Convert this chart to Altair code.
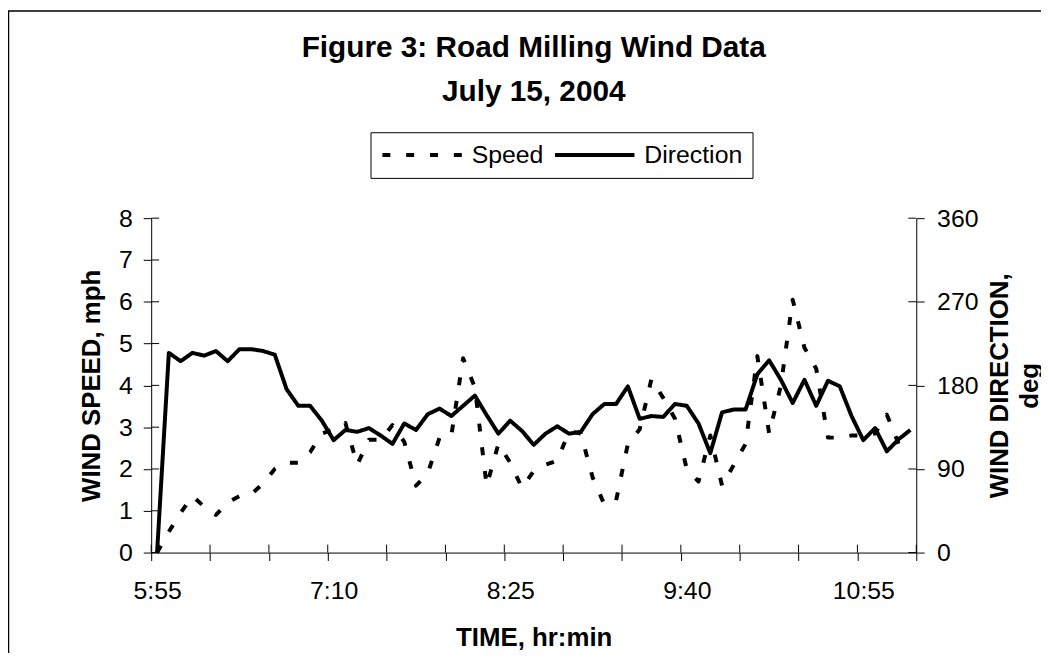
import altair as alt
import pandas as pd

# ---------------- data ----------------
times = ["5:55", "6:00", "6:05", "6:10", "6:15", "6:20", "6:25", "6:30", "6:35", "6:40",
         "6:45", "6:50", "6:55", "7:00", "7:05", "7:10", "7:15", "7:20", "7:25", "7:30",
         "7:35", "7:40", "7:45", "7:50", "7:55", "8:00", "8:05", "8:10", "8:15", "8:20",
         "8:25", "8:30", "8:35", "8:40", "8:45", "8:50", "8:55", "9:00", "9:05", "9:10",
         "9:15", "9:20", "9:25", "9:30", "9:35", "9:40", "9:45", "9:50", "9:55", "10:00",
         "10:05", "10:10", "10:15", "10:20", "10:25", "10:30", "10:35", "10:40", "10:45", "10:50",
         "10:55", "11:00", "11:05", "11:10", "11:15"]

speed = [0.0, 0.5, 0.95, 1.35, 1.1, 0.9, 1.2, 1.35, 1.4, 1.65,
         2.0, 2.15, 2.15, 2.4, 2.85, 2.95, 3.1, 2.1, 2.7, 2.7,
         3.05, 2.65, 1.6, 1.9, 2.75, 2.8, 4.65, 3.95, 1.6, 2.6,
         2.15, 1.55, 1.95, 2.1, 2.2, 2.9, 2.85, 1.8, 1.15, 1.25,
         2.6, 2.95, 4.15, 3.7, 3.2, 2.0, 1.7, 2.8, 1.6, 2.1,
         2.6, 4.7, 2.85, 4.0, 6.05, 4.9, 4.4, 2.75, 2.75, 2.8,
         2.8, 2.85, 3.3, 2.6, 2.8]

direction = [0, 215, 206, 215, 212, 217, 206, 219, 219, 217,
             213, 176, 158, 158, 142, 121, 132, 130, 134, 126,
             117, 139, 132, 149, 155, 147, 158, 169, 148, 128,
             142, 131, 116, 128, 136, 128, 130, 149, 160, 160,
             179, 144, 147, 146, 160, 158, 139, 107, 151, 154,
             154, 192, 207, 186, 161, 186, 158, 185, 179, 147,
             121, 134, 109, 122, 132]

series_names = ["Speed", "Direction"]
label_times = ["5:55", "7:10", "8:25", "9:40", "10:55"]
speed_ticks = [0, 1, 2, 3, 4, 5, 6, 7, 8]
direction_ticks = [0, 90, 180, 270, 360]

# ---------------- derived tables ----------------
n = len(times)
df = pd.DataFrame({"i": list(range(n)), "time": times, "speed": speed, "direction": direction})
# category-axis tick marks sit between categories, every 5 categories
x_bounds = [k - 0.5 for k in range(0, n + 1, 5)]
label_pos = {times.index(t) - 0.5: t for t in label_times}
label_expr = " : ".join(f"datum.value == {p} ? '{t}'" for p, t in label_pos.items()) + " : ''"

W, H = 771, 337
FONT = "Liberation Sans"

xscale = alt.Scale(domain=[-0.5, n - 0.5], nice=False, zero=False)
dash_scale = alt.Scale(domain=series_names, range=[[8, 16], [1, 0]])

legend = alt.Legend(
    title=None, orient="none", legendX=221, legendY=-86.6, direction="horizontal",
    strokeColor="black", padding=10, labelFont=FONT, labelFontSize=25, labelColor="black",
    symbolType="stroke", symbolSize=6400, symbolStrokeWidth=4, symbolStrokeColor="black",
    labelOffset=8, columnPadding=9, labelLimit=400, clipHeight=26,
)

x_axis = alt.Axis(
    values=x_bounds, labelExpr=label_expr, labelOffset=6, labelPadding=18,
    labelFlush=False, labelOverlap=False, title="TIME, hr:min", titleY=72.5,
)

left_axis = alt.Axis(
    orient="left", values=speed_ticks, title="WIND SPEED, mph", labelPadding=11,
    titleAngle=270, titleBaseline="bottom", titleX=-46.8, titleY=H / 2,
)

right_axis = alt.Axis(
    orient="right", values=direction_ticks, title=["WIND DIRECTION,", "deg"], labelPadding=12.5,
    titleAngle=270, titleBaseline="top", titleX=71.2, titleY=H / 2, titleLineHeight=30,
)

border = alt.Chart(pd.DataFrame({"a": [0]})).mark_rect(
    fillOpacity=0, stroke="black", strokeWidth=1.5
).encode(x=alt.value(-143.8), x2=alt.value(2000), y=alt.value(-208.8), y2=alt.value(2000))

speed_line = alt.Chart(df).transform_calculate(series="'Speed'").mark_line(
    color="black", strokeWidth=4, strokeJoin="round"
).encode(
    x=alt.X("i:Q", scale=xscale, axis=x_axis),
    y=alt.Y("speed:Q", scale=alt.Scale(domain=[0, 8], nice=False), axis=left_axis),
    strokeDash=alt.StrokeDash("series:N", scale=dash_scale, legend=legend),
)

left_ticks = alt.Chart(pd.DataFrame({"v": speed_ticks})).mark_rule(color="black", strokeWidth=1).encode(
    y=alt.Y("v:Q", axis=left_axis), x=alt.value(0), x2=alt.value(8)
)

x_ticks = alt.Chart(pd.DataFrame({"b": x_bounds})).mark_rule(color="black", strokeWidth=1).encode(
    x=alt.X("b:Q", scale=xscale, axis=x_axis), y=alt.value(H - 8), y2=alt.value(H)
)

dir_line = alt.Chart(df).transform_calculate(series="'Direction'").mark_line(
    color="black", strokeWidth=4, strokeJoin="round"
).encode(
    x=alt.X("i:Q", scale=xscale, axis=x_axis),
    y=alt.Y("direction:Q", scale=alt.Scale(domain=[0, 360], nice=False), axis=right_axis),
    strokeDash=alt.StrokeDash("series:N", scale=dash_scale, legend=legend),
)

right_ticks = alt.Chart(pd.DataFrame({"d": direction_ticks})).mark_rule(color="black", strokeWidth=1).encode(
    y=alt.Y("d:Q", axis=right_axis), x=alt.value(W - 8), x2=alt.value(W)
)

group_a = alt.layer(border, speed_line, left_ticks, x_ticks)
group_b = alt.layer(dir_line, right_ticks)

chart = alt.layer(group_a, group_b).resolve_scale(y="independent").properties(
    width=W, height=H,
    padding={"left": 144.3, "top": 209.3, "right": 125.7, "bottom": 98.7},
    autosize=alt.AutoSizeParams(type="none"),
    title=alt.Title(
        text=["Figure 3: Road Milling Wind Data", "July 15, 2004"],
        font=FONT, fontSize=30, fontWeight="bold", color="black",
        anchor="middle", frame="group", lineHeight=43.5, dy=101,
    ),
).configure_view(stroke=None).configure_axis(
    labelFont=FONT, labelFontSize=25, labelColor="black",
    titleFont=FONT, titleFontSize=26, titleFontWeight="bold", titleColor="black",
    domainColor="black", domainWidth=1, tickColor="black", tickWidth=1, tickSize=8,
    grid=False,
).configure_legend(strokeWidth=1)

chart.save("out.html", embed_options={"renderer": "svg", "actions": False})
